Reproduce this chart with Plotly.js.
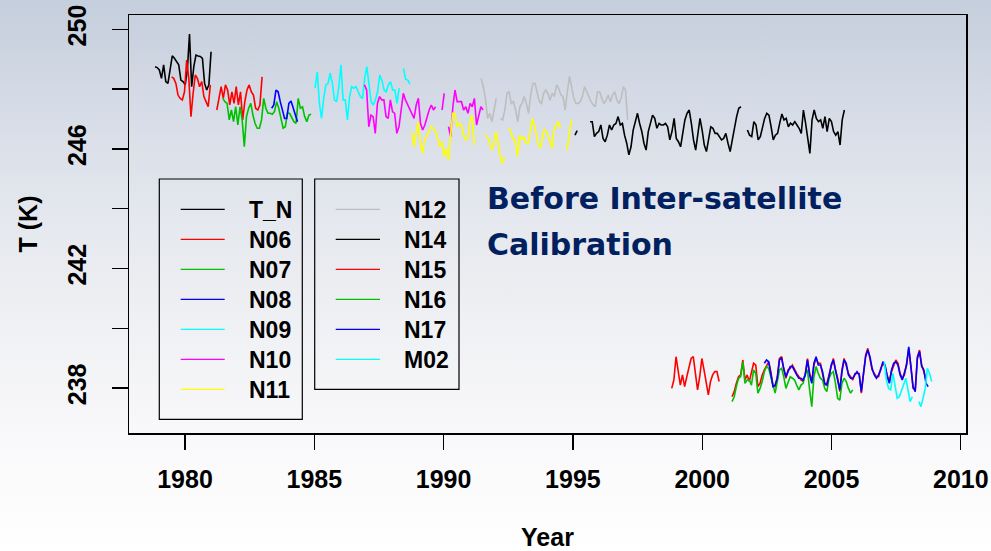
<!DOCTYPE html>
<html>
<head>
<meta charset="utf-8">
<script src="https://cdn.plot.ly/plotly-3.0.1.min.js"></script>
<style>
  html, body { margin: 0; padding: 0; }
  #chart {
    width: 991px; height: 551px;
    background: linear-gradient(to bottom, #c5cedc 0%, #d6dce7 20%, #e5e8ee 40%, #f0f1f4 60%, #f8f8fa 78%, #ffffff 100%);
  }
</style>
</head>
<body>
<div id="chart"></div>
<script>
// ---------------- DATA (monthly brightness temperature, K) ----------------
const seriesNames  = ['T_N','N06','N07','N08','N09','N10','N11','N12','N14','N15','N16','N17','M02'];
const seriesColors = ['#000000','#ff0000','#00c000','#0000ff','#00ffff','#ff00ff','#ffff00','#bebebe','#000000','#ff0000','#00c000','#0000ff','#00ffff'];

const tnStart = 1978.84;
const tnValues = [248.75,248.72,248.64,248.36,248.81,248.25,248.19,248.64,249.11,249.03,248.92,248.81,248.30,248.25,248.14,248.64,249.84,248.08,248.75,249.14,249.11,249.09,249.03,248.19,247.97,248.14,249.25];

const n06Start = 1979.48;
const n06Values = [248.41,248.36,248.19,247.80,247.69,247.64,247.91,248.97,248.36,247.08,247.86,248.47,248.36,248.08,248.25,247.75,247.58,247.41,248.14,null,null,
  247.30,247.69,248.08,247.69,248.14,247.97,247.47,247.91,247.52,248.08,247.47,247.91,246.97,247.58,247.97,248.14,247.91,247.80,247.36,247.30,247.47,248.41];

const n07Start = 1981.46;
const n07Values = [247.69,247.58,247.52,246.97,247.30,246.91,247.41,246.80,247.41,246.97,246.07,247.08,247.36,247.52,247.13,246.85,246.69,246.69,246.97,247.69,247.36,
  247.19,247.19,247.16,247.25,247.58,247.36,247.02,246.69,246.74,247.19,247.19,247.02,246.91,246.85,247.69,247.36,247.41,247.08,246.91,247.13,247.16];

const n08Start = 1983.35;
const n08Values = [247.36,247.47,247.97,247.91,247.58,247.25,247.02,247.02,247.52,247.60,247.36,247.08,246.91];

const n09Start = 1985.03;
const n09Values = [248.03,248.58,247.52,247.02,247.69,248.14,248.19,248.53,248.19,247.64,247.58,248.08,248.81,247.64,247.64,246.97,247.75,248.08,248.03,248.08,
  247.91,247.75,247.69,248.36,248.75,248.08,247.58,247.47,247.64,247.91,248.47,248.30,247.97,247.91,248.14,248.25,247.97,247.97,247.52,248.03,null,
  248.69,248.33,248.30,248.17];

const n10Start = 1986.94;
const n10Values = [248.14,247.97,246.74,247.13,247.08,246.52,247.52,247.75,247.64,247.64,247.08,247.02,247.64,247.25,247.19,246.52,246.74,247.41,247.86,247.64,
  247.47,247.30,247.13,247.02,247.47,247.69,246.85,246.63,246.80,247.08,247.30,247.47,247.30,247.41,null,null,247.30,247.86,null,246.74,
  246.41,247.41,247.97,247.58,247.58,247.58,247.30,247.41,247.19,247.52,247.41,247.69,246.80,247.13,247.41,247.30];

const n11Start = 1988.77;
const n11Values = [246.58,246.07,246.52,246.91,246.19,245.85,246.30,246.46,246.58,246.74,246.69,246.58,246.35,246.07,246.24,245.74,246.02,245.63,246.46,247.19,
  247.19,246.74,246.85,246.80,246.46,246.30,246.35,246.91,247.13,246.13,null,null,null,null,246.46,246.41,246.24,245.96,246.13,246.58,
  246.24,245.74,245.52,245.74,null,246.69,246.58,246.30,246.30,245.74,246.46,246.30,246.41,246.19,246.19,246.63,247.02,246.74,246.41,246.07,
  246.07,246.58,246.63,246.46,246.30,246.02,246.63,246.80,246.91,246.69,null,null,245.96,246.46,246.97];

const n12Start = 1991.45;
const n12Values = [248.36,248.08,247.69,247.02,247.19,246.91,247.30,247.69,null,247.02,246.97,247.30,247.86,247.91,247.52,247.58,247.30,246.91,247.41,247.52,
  247.75,247.52,247.19,247.80,248.19,248.19,247.91,247.58,247.52,247.86,247.97,247.86,247.63,247.86,247.75,248.14,248.03,247.80,247.75,247.30,
  247.91,248.42,248.08,247.69,247.52,247.52,247.58,247.75,248.08,247.91,247.69,247.58,247.47,247.41,247.91,247.91,247.69,247.52,247.63,247.80,
  247.58,247.80,247.91,247.63,247.52,247.69,248.08,247.97,246.97];

const n14Start = 1995.08;
const n14Values = [246.46,246.61,null,null,null,null,null,
  246.91,246.91,246.41,246.52,246.58,246.80,246.35,246.24,246.46,246.80,246.63,246.80,246.85,247.08,246.80,246.85,246.46,246.19,245.80,246.07,
  246.63,246.91,247.19,246.85,246.58,246.19,245.96,246.58,246.91,247.13,247.02,246.69,246.85,246.80,246.80,246.85,246.74,246.30,246.58,247.02,
  246.35,246.24,246.07,246.58,246.97,247.19,247.30,246.85,246.30,245.96,246.46,247.02,
  246.63,246.13,245.91,246.41,246.74,246.69,246.52,246.52,246.41,246.30,246.35,246.52,246.19,245.91,246.30,246.74,247.08,247.36,247.41,null,null,
  246.63,246.46,246.41,246.91,246.80,246.30,246.41,246.69,247.02,247.19,247.13,246.74,246.30,246.46,246.52,246.86,247.17,246.97,247.02,246.74,
  246.86,246.80,246.91,246.80,246.69,246.52,247.30,246.86,246.35,245.85,246.97,247.30,247.02,246.91,246.97,246.69,247.08,246.58,247.02,246.91,
  246.58,246.46,246.58,246.13,246.97,247.30];

const n15Start = 1998.82;
const n15Values = [237.99,238.27,239.05,238.49,238.10,238.44,238.05,238.38,238.66,238.99,239.05,238.55,237.94,238.38,238.99,238.61,238.22,237.77,238.22,238.44,
  238.55,238.55,238.22,null,null,null,null,null,
  237.71,237.88,238.16,238.38,238.44,238.94,238.27,238.44,238.22,238.49,238.83,238.77,238.05,238.16,238.44,238.61,238.77,238.88,238.55,238.10,
  238.05,238.38,238.99,239.05,238.61,238.33,238.61,238.66,238.77,238.61,238.49,238.38,238.27,238.22,238.49,238.99,238.49,238.22,238.77,238.99,
  238.83,238.83,238.49,238.10,238.16,238.44,238.72,238.99,238.61,238.33,237.88,238.61,238.99,238.77,238.49,238.38,238.27,238.49,238.49,238.49,
  237.83,238.55,239.11,239.33,238.99,238.61,238.49,238.38,238.38,238.66,238.83,238.72,238.44,238.22,238.55,238.77,238.94,238.83,238.49,238.33,
  238.44,238.83,239.33,238.72,237.99,237.94,239.05,239.27,238.77,238.55,238.27];

const n16Start = 2001.153;
const n16Values = [237.55,237.71,238.05,238.33,238.38,238.88,238.16,238.27,238.27,238.10,238.61,238.49,237.83,237.99,238.22,238.55,238.72,238.66,238.38,238.05,
  237.83,238.22,238.61,238.66,238.38,237.99,238.22,238.38,238.33,238.27,238.10,237.94,238.10,238.16,238.49,238.61,237.94,237.38,238.38,238.72,
  238.49,238.33,238.27,237.99,237.88,238.33,238.49,238.55,238.16,237.66,237.60,238.16,238.33,238.22,237.99,237.83,237.94];

const n17Start = 2002.403;
const n17Values = [238.83,238.94,238.88,238.49,238.05,238.10,238.33,238.94,239.00,238.66,238.38,238.55,238.72,238.72,238.55,238.44,238.33,238.33,238.27,238.44,
  238.94,238.44,238.16,238.83,239.05,238.77,238.77,238.55,238.16,238.10,238.38,238.77,238.94,238.55,238.27,237.94,238.55,238.94,238.83,238.44,
  238.33,238.33,238.44,238.55,238.44,237.88,238.49,239.05,239.27,239.05,238.66,238.44,238.33,238.44,238.61,238.88,238.77,238.38,238.16,238.61,
  238.83,238.88,238.77,238.44,238.27,238.49,238.77,239.38,238.77,238.05,237.88,238.99,239.22,238.72,238.61,238.16,238.05];

const m02Start = 2007.04;
const m02Values = [238.88,238.27,237.99,237.94,238.49,237.99,237.66,237.71,237.94,238.16,238.33,237.94,237.55,237.71,null,null,237.55,237.38,237.66,237.99,
  238.66,238.49,238.22];

const xTickValues = [1980, 1985, 1990, 1995, 2000, 2005, 2010];
const yTickValues = [238, 240, 242, 244, 246, 248, 250];
const yTickLabels = ['238', '', '242', '', '246', '', '250'];
const annotationLines = ['Before Inter-satellite', 'Calibration'];

// ---------------- BUILD ----------------
const starts = [tnStart,n06Start,n07Start,n08Start,n09Start,n10Start,n11Start,n12Start,n14Start,n15Start,n16Start,n17Start,m02Start];
const values = [tnValues,n06Values,n07Values,n08Values,n09Values,n10Values,n11Values,n12Values,n14Values,n15Values,n16Values,n17Values,m02Values];

const traces = seriesNames.map((name, s) => ({
  type: 'scatter', mode: 'lines', name: name,
  x: values[s].map((v, i) => starts[s] + i / 12),
  y: values[s],
  connectgaps: false,
  line: { color: seriesColors[s], width: 1.6 },
  showlegend: false,
  hoverinfo: 'x+y+name'
}));

const W = 991, H = 551, ML = 129, MR = 25, MT = 15, MB = 118;
const plotW = W - ML - MR, plotH = H - MT - MB;
const pxX = p => (p - ML) / plotW;
const pxY = p => (H - MB - p) / plotH;

const axisFont = { family: 'Liberation Sans, Arial, sans-serif', size: 25, color: '#000', weight: 'bold' };
const legendFont = { family: 'Liberation Sans, Arial, sans-serif', size: 23, color: '#000', weight: 'bold' };

const shapes = [];
const annotations = [];

// legend boxes (two columns)
shapes.push({ type: 'rect', xref: 'paper', yref: 'paper', x0: pxX(159.3), x1: pxX(302.3), y0: pxY(419.3), y1: pxY(179), line: { color: '#000', width: 1.2 } });
shapes.push({ type: 'rect', xref: 'paper', yref: 'paper', x0: pxX(314.7), x1: pxX(459), y0: pxY(389.3), y1: pxY(179), line: { color: '#000', width: 1.2 } });
seriesNames.forEach((name, s) => {
  const col = s < 7 ? 0 : 1;
  const row = s < 7 ? s : s - 7;
  const yRow = 209.3 + 30 * row;
  const lx0 = col === 0 ? 180.7 : 335.7;
  const lx1 = col === 0 ? 224.7 : 380;
  const tx = col === 0 ? 246.7 : 401.7;
  shapes.push({ type: 'line', xref: 'paper', yref: 'paper', x0: pxX(lx0), x1: pxX(lx1), y0: pxY(yRow), y1: pxY(yRow), line: { color: seriesColors[s], width: 1.2 } });
  annotations.push({ xref: 'paper', yref: 'paper', x: pxX(tx), y: pxY(yRow + 1), xanchor: 'left', yanchor: 'middle', showarrow: false, text: name, font: legendFont });
});

// overlay text
const noteFont = { family: 'DejaVu Sans, Verdana, sans-serif', size: 30, color: '#002060', weight: 'bold' };
annotations.push({ xref: 'paper', yref: 'paper', x: pxX(485), y: pxY(198), xanchor: 'left', yanchor: 'middle', showarrow: false, text: annotationLines[0], font: noteFont });
annotations.push({ xref: 'paper', yref: 'paper', x: pxX(485), y: pxY(244), xanchor: 'left', yanchor: 'middle', showarrow: false, text: annotationLines[1], font: noteFont });

const layout = {
  width: W, height: H,
  margin: { l: ML, r: MR, t: MT, b: MB, pad: 0 },
  paper_bgcolor: 'rgba(0,0,0,0)',
  plot_bgcolor: 'rgba(0,0,0,0)',
  showlegend: false,
  xaxis: {
    range: [1977.834, 2010.20],
    tickmode: 'array', tickvals: xTickValues, ticktext: xTickValues.map(String),
    ticks: 'outside', ticklen: 15, tickwidth: 1.3, tickcolor: '#000',
    ticklabelstandoff: 8, ticklabeloverflow: 'allow',
    showline: true, mirror: true, linecolor: '#000', linewidth: 1.5,
    showgrid: false, zeroline: false,
    tickfont: axisFont,
    title: { text: 'Year', font: axisFont, standoff: 44 }
  },
  yaxis: {
    range: [236.498, 250.478],
    tickmode: 'array', tickvals: yTickValues, ticktext: yTickLabels,
    tickangle: -90,
    ticks: 'outside', ticklen: 16, tickwidth: 1.3, tickcolor: '#000',
    ticklabelstandoff: 16, ticklabeloverflow: 'allow',
    showline: true, mirror: true, linecolor: '#000', linewidth: 1.5,
    showgrid: false, zeroline: false,
    tickfont: axisFont,
    title: { text: 'T (K)', font: axisFont, standoff: 18 }
  },
  shapes: shapes,
  annotations: annotations
};

Plotly.newPlot('chart', traces, layout, { displayModeBar: false, staticPlot: true });
</script>
</body>
</html>
